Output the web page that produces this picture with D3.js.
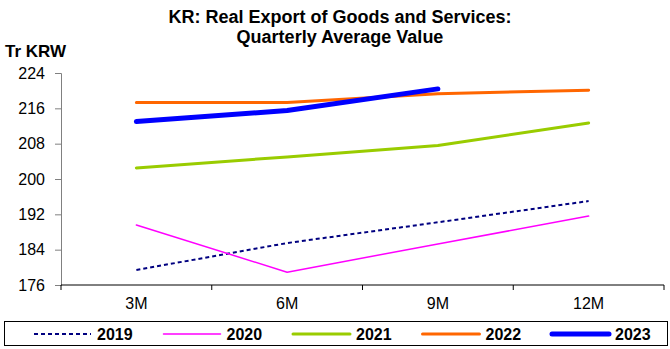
<!DOCTYPE html>
<html>
<head>
<meta charset="utf-8">
<script src="https://cdn.jsdelivr.net/npm/d3@7"></script>
<style>
  body { margin: 0; background: #fff; }
  svg text { font-family: "Liberation Sans", Arial, sans-serif; }
</style>
</head>
<body>
<div id="chart"></div>
<script>
// data
var categories = ["3M", "6M", "9M", "12M"];
var yTicks = [176, 184, 192, 200, 208, 216, 224];
var v2019 = [179.4, 185.5, 190.2, 195.0];
var v2020 = [189.6, 178.9, 185.3, 191.6];
var v2021 = [202.5, 205.0, 207.6, 212.7];
var v2022 = [217.3, 217.3, 219.3, 220.1];
var v2023 = [213.0, 215.5, 220.4];

var series = [
  {name: "2019", values: v2019, color: "#000080", width: 2, dash: "4,3"},
  {name: "2020", values: v2020, color: "#FF00FF", width: 1.5, dash: null},
  {name: "2021", values: v2021, color: "#99CC00", width: 3, dash: null},
  {name: "2022", values: v2022, color: "#FF6600", width: 3, dash: null},
  {name: "2023", values: v2023, color: "#0000FF", width: 5, dash: null}
];

var W = 670, H = 349;
var margin = {top: 73, right: 6, bottom: 64, left: 61};

var svg = d3.select("#chart").append("svg")
    .attr("width", W)
    .attr("height", H);

var x = d3.scaleBand()
    .domain(categories)
    .range([margin.left, W - margin.right]);

var y = d3.scaleLinear()
    .domain([176, 224])
    .range([H - margin.bottom, margin.top]);

// title
svg.append("text")
    .attr("x", 340).attr("y", 23)
    .attr("text-anchor", "middle")
    .style("font-size", "18px").style("font-weight", "bold")
    .text("KR: Real Export of Goods and Services:");
svg.append("text")
    .attr("x", 340).attr("y", 43)
    .attr("text-anchor", "middle")
    .style("font-size", "18px").style("font-weight", "bold")
    .text("Quarterly Average Value");

svg.append("text")
    .attr("x", 5).attr("y", 57)
    .style("font-size", "17px").style("font-weight", "bold")
    .text("Tr KRW");

// y axis
var yAxis = svg.append("g")
    .attr("transform", "translate(" + margin.left + ",0)")
    .call(d3.axisLeft(y).tickValues(yTicks).tickSize(6).tickPadding(10));
yAxis.select(".domain").attr("stroke", "#808080");
yAxis.selectAll(".tick line").attr("stroke", "#808080");
yAxis.selectAll("text").style("font-size", "16px").attr("fill", "#000");

// x axis with ticks at band edges
var xg = svg.append("g")
    .attr("transform", "translate(0," + (H - margin.bottom) + ")");
xg.append("line")
    .attr("x1", margin.left).attr("x2", W - margin.right)
    .attr("stroke", "#000");
var edges = categories.map(function(c) { return x(c); }).concat([x.range()[1]]);
xg.selectAll(".edge").data(edges).enter().append("line")
    .attr("x1", function(d) { return d; }).attr("x2", function(d) { return d; })
    .attr("y1", 0).attr("y2", 5)
    .attr("stroke", "#000");
xg.selectAll(".lbl").data(categories).enter().append("text")
    .attr("x", function(d) { return x(d) + x.bandwidth() / 2; })
    .attr("y", 24)
    .attr("text-anchor", "middle")
    .style("font-size", "16px")
    .text(function(d) { return d; });

// lines
var line = d3.line()
    .x(function(d, i) { return x(categories[i]) + x.bandwidth() / 2; })
    .y(function(d) { return y(d); });

svg.selectAll(".series").data(series).enter().append("path")
    .attr("class", "series")
    .attr("d", function(s) { return line(s.values); })
    .attr("fill", "none")
    .attr("stroke", function(s) { return s.color; })
    .attr("stroke-width", function(s) { return s.width; })
    .attr("stroke-dasharray", function(s) { return s.dash; })
    .attr("stroke-linecap", function(s) { return s.dash ? "butt" : "round"; })
    .attr("stroke-linejoin", "round");

// legend
var lg = svg.append("g");
lg.append("rect")
    .attr("x", 4.5).attr("y", 321.5)
    .attr("width", 663).attr("height", 24)
    .attr("fill", "#fff").attr("stroke", "#000");

var item = lg.selectAll(".item").data(series).enter().append("g")
    .attr("transform", function(d, i) { return "translate(" + (34 + i * 129.5) + ",334)"; });
item.append("line")
    .attr("x1", 0).attr("x2", 57)
    .attr("stroke", function(s) { return s.color; })
    .attr("stroke-width", function(s) { return s.width; })
    .attr("stroke-dasharray", function(s) { return s.dash; })
    .attr("stroke-linecap", function(s) { return s.dash ? "butt" : "round"; });
item.append("text")
    .attr("x", 63).attr("y", 6)
    .style("font-size", "16px").style("font-weight", "bold")
    .text(function(s) { return s.name; });
</script>
</body>
</html>
